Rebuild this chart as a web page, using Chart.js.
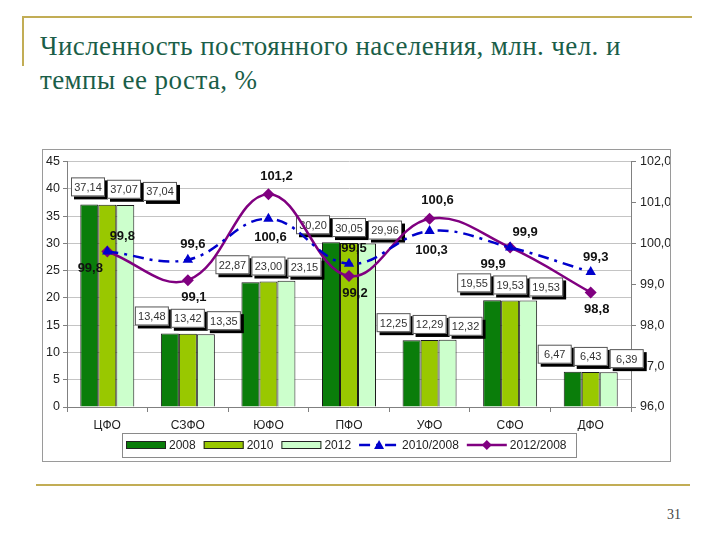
<!DOCTYPE html>
<html>
<head>
<meta charset="utf-8">
<script src="https://cdn.jsdelivr.net/npm/chart.js@4/dist/chart.umd.min.js"></script>
<style>
  body { margin: 0; width: 720px; height: 540px; background: #fff; position: relative; overflow: hidden; }
  .gold { position: absolute; background: #c2ad55; }
  .title { position: absolute; left: 40px; top: 29px; font-family: "Liberation Serif", "DejaVu Serif", serif;
           font-size: 27px; line-height: 34px; letter-spacing: 0.4px; color: #1a5e48; }
  .frame { position: absolute; left: 42px; top: 149px; width: 627px; height: 311px; border: 1px solid #9a9a9a; }
  #chart { position: absolute; left: 0; top: 0; }
  .page { position: absolute; left: 667px; top: 507px; font-family: "Liberation Serif", serif; font-size: 14px; color: #444; }
</style>
</head>
<body>
<div class="gold" style="left:22px;top:16px;width:670px;height:2px"></div>
<div class="gold" style="left:22px;top:16px;width:2px;height:50px"></div>
<div class="title">Численность постоянного населения, млн. чел. и<br>темпы ее роста, %</div>
<div class="frame"><canvas id="chart" width="627" height="311"></canvas></div>
<div class="gold" style="left:36px;top:484px;width:654px;height:2px"></div>
<div class="page">31</div>
<script>
// данные
const regions = ['ЦФО', 'СЗФО', 'ЮФО', 'ПФО', 'УФО', 'СФО', 'ДФО'];
const pop2008 = [37.14, 13.48, 22.87, 30.20, 12.25, 19.55, 6.47];
const pop2010 = [37.07, 13.42, 23.00, 30.05, 12.29, 19.53, 6.43];
const pop2012 = [37.04, 13.35, 23.15, 29.96, 12.32, 19.53, 6.39];
const rate2010 = [99.8, 99.6, 100.6, 99.5, 100.3, 99.9, 99.3];
const rate2012 = [99.8, 99.1, 101.2, 99.2, 100.6, 99.9, 98.8];
const popRange = [0, 45], popStep = 5;
const rateRange = [96, 102], rateStep = 1;

const comma = (v, d) => v.toFixed(d).replace('.', ',');
const font = '"Liberation Sans", Arial, sans-serif';
Chart.defaults.font.family = font;
Chart.defaults.color = '#333';

let barLabelsDone = false;

function drawBarLabels(chart) {
  const ctx = chart.ctx;
  const area = chart.chartArea;
  const w = 34, h = 19;
  ctx.save();
  ctx.font = '11px ' + font;
  ctx.textAlign = 'center';
  ctx.textBaseline = 'middle';
  const bars = chart.data.datasets
    .map((ds, di) => ({ ds, meta: chart.getDatasetMeta(di) }))
    .filter(o => o.ds.type === 'bar');
  regions.forEach((r, i) => {
    // boxes spread over the group, pushed right if they hit the axis
    let shift = 0;
    const first = bars[0].meta.data[i].x - 18 - w / 2;
    if (first < area.left + 4) shift = area.left + 4 - first;
    bars.forEach(({ ds, meta }) => {
      const k = ds.barIndex;
      const bar = meta.data[i];
      const cx = bar.x + (k - 1) * 18 + shift;
      const bottom = bar.y - 8 + k * 2;
      const x = cx - w / 2, y = bottom - h;
      ctx.fillStyle = '#000';
      ctx.fillRect(x + 3, y + 3, w, h);
      ctx.fillStyle = '#fff';
      ctx.fillRect(x, y, w, h);
      ctx.strokeStyle = '#555';
      ctx.lineWidth = 1;
      ctx.strokeRect(x + 0.5, y + 0.5, w - 1, h - 1);
      ctx.fillStyle = '#333';
      ctx.fillText(comma(ds.data[i], 2), cx, y + h / 2 + 1);
    });
  });
  ctx.restore();
}

function drawLineLabels(chart) {
  const ctx = chart.ctx;
  const blue = chart.getDatasetMeta(0).data;
  const purple = chart.getDatasetMeta(1).data;
  ctx.save();
  ctx.font = 'bold 13px ' + font;
  ctx.fillStyle = '#111';
  ctx.textAlign = 'center';
  ctx.textBaseline = 'middle';
  rate2010.forEach((v, i) => {
    const w = rate2012[i];
    const blueUp = v >= w;
    const tie = v === w;
    const b = blue[i], p = purple[i];
    if (blueUp) {
      ctx.fillText(comma(v, 1), b.x + (tie ? 15 : 5), b.y - 15);
      ctx.fillText(comma(w, 1), p.x - (tie ? 17 : -6), p.y + 17);
    } else {
      ctx.fillText(comma(v, 1), b.x + 2, b.y + 19);
      ctx.fillText(comma(w, 1), p.x + 8, p.y - 18);
    }
  });
  ctx.restore();
}

function drawLegend(chart) {
  const ctx = chart.ctx;
  const top = 283, h = 24, left = 79, right = 533;
  const mid = top + h / 2;
  ctx.save();
  ctx.fillStyle = '#fff';
  ctx.fillRect(left, top, right - left, h);
  ctx.strokeStyle = '#8a8a8a';
  ctx.lineWidth = 1;
  ctx.strokeRect(left + 0.5, top + 0.5, right - left, h);
  ctx.font = '12px ' + font;
  ctx.textBaseline = 'middle';
  ctx.fillStyle = '#222';
  let x = left + 4;
  chart.data.datasets.slice().sort((a, b) => a.legendPos - b.legendPos).forEach(ds => {
    if (ds.type === 'bar') {
      ctx.fillStyle = ds.backgroundColor;
      ctx.fillRect(x, mid - 4, 40, 8);
      ctx.strokeStyle = '#222';
      ctx.strokeRect(x + 0.5, mid - 3.5, 39, 7);
    } else {
      ctx.strokeStyle = ds.borderColor;
      ctx.lineWidth = 2.5;
      ctx.setLineDash(ds.borderDash || []);
      ctx.beginPath();
      ctx.moveTo(x, mid);
      ctx.lineTo(x + 40, mid);
      ctx.stroke();
      ctx.setLineDash([]);
      ctx.fillStyle = ds.borderColor;
      ctx.beginPath();
      if (ds.pointStyle === 'triangle') {
        ctx.moveTo(x + 20, mid - 5);
        ctx.lineTo(x + 25, mid + 4);
        ctx.lineTo(x + 15, mid + 4);
      } else {
        ctx.moveTo(x + 20, mid - 5);
        ctx.lineTo(x + 25, mid);
        ctx.lineTo(x + 20, mid + 5);
        ctx.lineTo(x + 15, mid);
      }
      ctx.fill();
      ctx.lineWidth = 1;
    }
    x += 43;
    ctx.fillStyle = '#222';
    ctx.fillText(ds.label, x, mid + 1);
    x += ctx.measureText(ds.label).width + 8;
  });
  ctx.restore();
}

const extras = {
  id: 'extras',
  beforeDraw() { barLabelsDone = false; },
  beforeDatasetDraw(chart, args) {
    if (args.meta.type === 'line' && !barLabelsDone) {
      drawBarLabels(chart);
      barLabelsDone = true;
    }
  },
  afterDatasetsDraw(chart) {
    drawLineLabels(chart);
  },
  afterDraw(chart) {
    drawLegend(chart);
  }
};

new Chart(document.getElementById('chart'), {
  data: {
    labels: regions,
    datasets: [
      { type: 'line', label: '2010/2008', data: rate2010, yAxisID: 'y1', order: 1, legendPos: 3,
        borderColor: '#0000cc', backgroundColor: '#0000cc', borderWidth: 2.5, borderDash: [11, 6, 3, 6],
        tension: 0.4, pointStyle: 'triangle', pointRadius: 6, pointBorderWidth: 0 },
      { type: 'line', label: '2012/2008', data: rate2012, yAxisID: 'y1', order: 1, legendPos: 4,
        borderColor: '#800080', backgroundColor: '#800080', borderWidth: 2.5,
        tension: 0.4, pointStyle: 'rectRot', pointRadius: 6, pointBorderWidth: 0 },
      { type: 'bar', label: '2008', data: pop2008, yAxisID: 'y', order: 2, legendPos: 0, barIndex: 0,
        backgroundColor: '#0a7d0a', borderColor: '#1a1a1a', borderWidth: 1,
        categoryPercentage: 0.67, barPercentage: 1 },
      { type: 'bar', label: '2010', data: pop2010, yAxisID: 'y', order: 2, legendPos: 1, barIndex: 1,
        backgroundColor: '#99c800', borderColor: '#1a1a1a', borderWidth: 1,
        categoryPercentage: 0.67, barPercentage: 1 },
      { type: 'bar', label: '2012', data: pop2012, yAxisID: 'y', order: 2, legendPos: 2, barIndex: 2,
        backgroundColor: '#ccffcc', borderColor: '#1a1a1a', borderWidth: 1,
        categoryPercentage: 0.67, barPercentage: 1 }
    ]
  },
  options: {
    responsive: false,
    animation: false,
    layout: { padding: { top: 11, bottom: 30, left: 0, right: 0 } },
    plugins: { legend: { display: false }, tooltip: { enabled: false } },
    scales: {
      x: {
        offset: true,
        grid: { offset: true, drawOnChartArea: false, drawTicks: true, tickLength: 5, color: '#808080' },
        border: { color: '#808080' },
        ticks: { font: { size: 12 }, color: '#222', padding: 6 },
        afterFit: s => { s.height = 24; }
      },
      y: {
        position: 'left',
        min: popRange[0], max: popRange[1],
        ticks: { stepSize: popStep, font: { size: 12.5 }, color: '#222', padding: 3 },
        grid: { color: '#c4c4c4', tickLength: 4, tickColor: '#808080' },
        border: { color: '#808080' },
        afterFit: s => { s.width = 24; }
      },
      y1: {
        position: 'right',
        min: rateRange[0], max: rateRange[1],
        ticks: { stepSize: rateStep, font: { size: 12.5 }, color: '#222', padding: 4,
                 callback: v => comma(v, 1) },
        grid: { drawOnChartArea: false, tickLength: 5, color: '#808080' },
        border: { color: '#808080' },
        afterFit: s => { s.width = 39; }
      }
    }
  },
  plugins: [extras]
});
</script>
</body>
</html>
